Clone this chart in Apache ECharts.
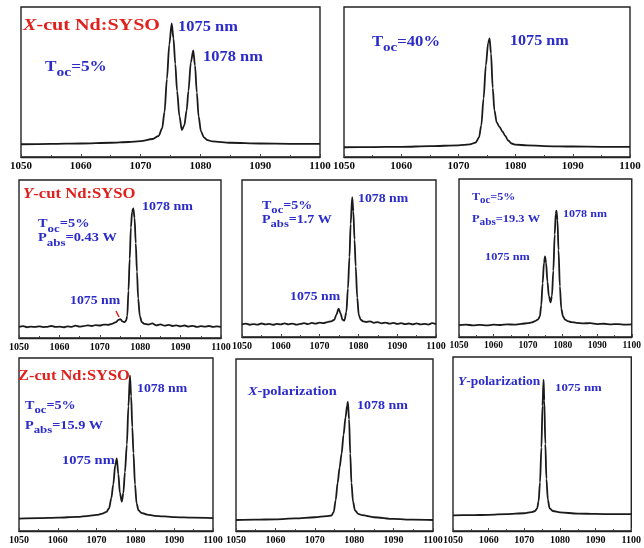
<!DOCTYPE html>
<html><head><meta charset="utf-8">
<script src="https://cdn.jsdelivr.net/npm/echarts@6/dist/echarts.min.js"></script>
<style>html,body{margin:0;padding:0;background:#fff}#c{width:644px;height:548px}</style>
</head><body><div id="c"></div>
<script>
// ---- data (wavelength nm, relative intensity) ----
const ticks = [1050, 1060, 1070, 1080, 1090, 1100];

const xcut5 = [[1050,0.085],[1055,0.087],[1060,0.09],[1065,0.095],[1068,0.1],[1070,0.106],[1072,0.12],[1073,0.14],[1073.6,0.19],[1074.0,0.3],[1074.4,0.52],[1074.8,0.75],[1075.2,0.89],[1075.5,0.79],[1075.8,0.62],[1076.1,0.44],[1076.5,0.27],[1076.9,0.18],[1077.3,0.21],[1077.7,0.31],[1078.0,0.44],[1078.4,0.63],[1078.8,0.71],[1079.1,0.61],[1079.4,0.43],[1079.7,0.27],[1080.1,0.17],[1080.6,0.13],[1081.2,0.113],[1082,0.104],[1085,0.095],[1090,0.09],[1095,0.088],[1100,0.087]];

const xcut40 = [[1050,0.065],[1055,0.066],[1060,0.068],[1065,0.072],[1070,0.078],[1072,0.084],[1073,0.096],[1073.6,0.13],[1074.0,0.21],[1074.4,0.39],[1074.8,0.61],[1075.2,0.76],[1075.45,0.79],[1075.7,0.69],[1076.0,0.46],[1076.3,0.31],[1076.7,0.23],[1077.2,0.2],[1077.7,0.17],[1078.2,0.14],[1078.7,0.11],[1079.3,0.09],[1080,0.082],[1082,0.078],[1085,0.073],[1090,0.07],[1095,0.068],[1100,0.067]];

const ycut043 = [[1050,0.07],[1051,0.075],[1052,0.068],[1053,0.072],[1054,0.07],[1055,0.074],[1056,0.069],[1057,0.071],[1058,0.076],[1059,0.07],[1060,0.072],[1061,0.068],[1062,0.074],[1063,0.071],[1064,0.078],[1065,0.072],[1066,0.075],[1067,0.08],[1068,0.076],[1069,0.082],[1070,0.079],[1071,0.085],[1072,0.083],[1073,0.09],[1074,0.1],[1074.6,0.115],[1075.1,0.12],[1075.6,0.105],[1076.1,0.1],[1076.5,0.11],[1076.8,0.14],[1077.1,0.3],[1077.4,0.5],[1077.7,0.7],[1078.0,0.8],[1078.3,0.82],[1078.6,0.76],[1078.9,0.6],[1079.2,0.42],[1079.5,0.25],[1079.9,0.14],[1080.4,0.1],[1081,0.09],[1082,0.085],[1083,0.092],[1084,0.08],[1085,0.086],[1086,0.078],[1087,0.083],[1088,0.076],[1089,0.08],[1090,0.074],[1091,0.079],[1092,0.072],[1093,0.077],[1094,0.07],[1095,0.075],[1096,0.072],[1097,0.076],[1098,0.07],[1099,0.073],[1100,0.071]];

const ycut17 = [[1050,0.08],[1051,0.085],[1052,0.078],[1053,0.082],[1054,0.079],[1055,0.086],[1056,0.08],[1057,0.083],[1058,0.078],[1059,0.084],[1060,0.08],[1061,0.087],[1062,0.081],[1063,0.085],[1064,0.079],[1065,0.083],[1066,0.088],[1067,0.082],[1068,0.09],[1069,0.085],[1070,0.092],[1071,0.088],[1072,0.095],[1073,0.1],[1073.8,0.11],[1074.3,0.14],[1074.9,0.18],[1075.4,0.15],[1075.9,0.11],[1076.4,0.105],[1076.9,0.16],[1077.3,0.31],[1077.7,0.51],[1078.0,0.72],[1078.4,0.89],[1078.7,0.8],[1079.0,0.62],[1079.3,0.45],[1079.7,0.25],[1080.1,0.14],[1080.6,0.11],[1081.2,0.1],[1082,0.095],[1083,0.1],[1084,0.09],[1085,0.095],[1086,0.087],[1087,0.092],[1088,0.085],[1089,0.09],[1090,0.083],[1091,0.088],[1092,0.082],[1093,0.086],[1094,0.08],[1095,0.087],[1096,0.081],[1097,0.084],[1098,0.079],[1099,0.088],[1100,0.082]];

const ycut193 = [[1050,0.075],[1052,0.078],[1054,0.074],[1056,0.077],[1058,0.073],[1060,0.078],[1062,0.076],[1064,0.08],[1066,0.078],[1068,0.083],[1070,0.088],[1071,0.092],[1072,0.1],[1072.8,0.11],[1073.4,0.13],[1073.8,0.2],[1074.2,0.34],[1074.6,0.47],[1074.9,0.51],[1075.2,0.47],[1075.6,0.35],[1076.0,0.26],[1076.5,0.22],[1076.9,0.26],[1077.3,0.42],[1077.7,0.65],[1078.0,0.78],[1078.2,0.8],[1078.5,0.74],[1078.8,0.55],[1079.2,0.32],[1079.6,0.18],[1080.1,0.13],[1080.7,0.11],[1081.5,0.1],[1082.5,0.094],[1084,0.09],[1086,0.086],[1088,0.088],[1090,0.082],[1092,0.084],[1094,0.08],[1096,0.082],[1098,0.078],[1100,0.08]];

const zcut159 = [[1050,0.072],[1055,0.074],[1060,0.077],[1065,0.082],[1068,0.088],[1070,0.093],[1071.5,0.1],[1072.5,0.11],[1073.2,0.13],[1073.8,0.19],[1074.3,0.27],[1074.8,0.38],[1075.2,0.42],[1075.6,0.33],[1076.0,0.22],[1076.5,0.17],[1076.9,0.22],[1077.3,0.34],[1077.8,0.5],[1078.2,0.72],[1078.6,0.9],[1078.9,0.78],[1079.2,0.6],[1079.5,0.45],[1079.9,0.27],[1080.3,0.16],[1080.8,0.12],[1081.5,0.105],[1083,0.095],[1085,0.088],[1090,0.08],[1095,0.077],[1100,0.075]];

const xpol = [[1050,0.064],[1055,0.066],[1060,0.068],[1065,0.073],[1070,0.08],[1073,0.086],[1074.2,0.09],[1074.8,0.11],[1075.3,0.18],[1075.8,0.28],[1076.3,0.37],[1076.8,0.45],[1077.3,0.56],[1077.8,0.66],[1078.2,0.73],[1078.4,0.75],[1078.7,0.65],[1079.0,0.45],[1079.3,0.28],[1079.7,0.17],[1080.2,0.12],[1081,0.1],[1082,0.092],[1085,0.08],[1090,0.07],[1095,0.066],[1100,0.064]];

const ypol = [[1050,0.09],[1055,0.091],[1060,0.093],[1065,0.097],[1070,0.102],[1072,0.108],[1073,0.115],[1073.6,0.13],[1074.0,0.17],[1074.4,0.28],[1074.8,0.48],[1075.1,0.72],[1075.4,0.87],[1075.6,0.75],[1075.9,0.5],[1076.2,0.3],[1076.6,0.18],[1077.1,0.13],[1078,0.115],[1080,0.107],[1085,0.1],[1090,0.098],[1095,0.097],[1100,0.097]];

// ---- layout ----
const panels = [
  {data: xcut5,   box: [21, 7, 299, 150], fs: 11},
  {data: xcut40,  box: [344, 7, 286, 150], fs: 11},
  {data: ycut043, box: [19, 180, 202, 158], fs: 10},
  {data: ycut17,  box: [242, 180, 194, 157], fs: 10},
  {data: ycut193, box: [459, 179, 173, 158], fs: 9.5},
  {data: zcut159, box: [19, 358, 194, 173], fs: 10},
  {data: xpol,    box: [236, 359, 197, 172], fs: 10},
  {data: ypol,    box: [453, 357, 183, 174], fs: 10}
];

const BLUE = '#2b2bc9', RED = '#e0201c', FONT = '"Liberation Serif", "Times New Roman", serif';
// annotations: [x-left, y-center, rich text, size, color]
const notes = [
  [23, 27, '{i|X}{n|-cut Nd:SYSO}', 17.5, RED],
  [178, 29, '{n|1075 nm}', 14.3, BLUE],
  [203, 59, '{n|1078 nm}', 14.3, BLUE],
  [45, 69, '{n|T}{s|oc}{n|=5%}', 15, BLUE],
  [372, 44, '{n|T}{s|oc}{n|=40%}', 14.5, BLUE],
  [510, 43, '{n|1075 nm}', 14, BLUE],
  [23, 196, '{i|Y}{n|-cut Nd:SYSO}', 14.5, RED],
  [142, 208, '{n|1078 nm}', 12.2, BLUE],
  [38, 225, '{n|T}{s|oc}{n|=5%}', 12.5, BLUE],
  [38, 239, '{n|P}{s|abs}{n|=0.43 W}', 12.5, BLUE],
  [70, 302, '{n|1075 nm}', 12, BLUE],
  [358, 200, '{n|1078 nm}', 12, BLUE],
  [262, 207, '{n|T}{s|oc}{n|=5%}', 12.2, BLUE],
  [262, 221, '{n|P}{s|abs}{n|=1.7 W}', 12.2, BLUE],
  [290, 298, '{n|1075 nm}', 12, BLUE],
  [472, 198, '{n|T}{s|oc}{n|=5%}', 10.5, BLUE],
  [472, 220, '{n|P}{s|abs}{n|=19.3 W}', 10.8, BLUE],
  [563, 215, '{n|1078 nm}', 10.5, BLUE],
  [485, 258, '{n|1075 nm}', 10.7, BLUE],
  [18, 378, '{n|Z-cut Nd:SYSO}', 14.3, RED],
  [137, 390, '{n|1078 nm}', 12, BLUE],
  [25, 407, '{n|T}{s|oc}{n|=5%}', 12.3, BLUE],
  [25, 427, '{n|P}{s|abs}{n|=15.9 W}', 12.4, BLUE],
  [62, 462, '{n|1075 nm}', 12.6, BLUE],
  [248, 393, '{i|X}{n|-polarization}', 12.5, BLUE],
  [357, 407, '{n|1078 nm}', 12.2, BLUE],
  [458, 383, '{i|Y}{n|-polarization}', 11.7, BLUE],
  [555, 390, '{n|1075 nm}', 11.2, BLUE]
];

const SX = 1.15;
function note(n) {
  const [x, y, text, s, color] = n;
  const lh = Math.round(s * 1.2);
  const base = {fontFamily: FONT, fontWeight: 'bold', fontSize: s, fill: color, color: color};
  const rich = {
    n: Object.assign({}, base, {verticalAlign: 'top', lineHeight: lh}),
    i: Object.assign({}, base, {fontStyle: 'italic', verticalAlign: 'top', lineHeight: lh}),
    s: Object.assign({}, base, {fontSize: s * 0.9, verticalAlign: 'bottom', lineHeight: Math.round(s * 1.33)})
  };
  return {
    type: 'text', x: x, y: y - s * 0.62, scaleX: SX, z: 100,
    style: {text: text, rich: rich, fontFamily: FONT, fontWeight: 'bold', fontSize: s, fill: color, align: 'left', verticalAlign: 'top'}
  };
}

const grid = [], xAxis = [], yAxis = [], series = [];
panels.forEach((p, i) => {
  const [l, t, w, h] = p.box;
  grid.push({left: l, top: t, width: w, height: h, show: true, borderColor: '#222', borderWidth: 1.4, backgroundColor: 'transparent', containLabel: false});
  xAxis.push({
    type: 'value', gridIndex: i, min: ticks[0], max: ticks[ticks.length - 1], interval: ticks[1] - ticks[0],
    axisLine: {show: true, lineStyle: {color: '#222', width: 1.4}},
    axisTick: {show: true, inside: true, length: 3, lineStyle: {color: '#444'}},
    minorTick: {show: true, splitNumber: 2, length: 2, lineStyle: {color: '#444'}},
    splitLine: {show: false},
    axisLabel: {show: true, margin: 4, color: '#0a0a0a', fontFamily: FONT, fontWeight: 'bold', fontSize: p.fs, showMinLabel: true, showMaxLabel: true, hideOverlap: false, formatter: v => String(v)}
  });
  yAxis.push({type: 'value', gridIndex: i, min: 0, max: 1, show: false, splitLine: {show: false}});
  series.push({
    type: 'line', xAxisIndex: i, yAxisIndex: i, data: p.data, showSymbol: false, symbol: 'none',
    smooth: 0.3, smoothMonotone: 'x', lineStyle: {color: '#1a1a1a', width: 1.8}, silent: true, animation: false
  });
});

const graphic = notes.map(note);
graphic.push({type: 'line', shape: {x1: 116, y1: 311, x2: 119, y2: 317}, style: {stroke: RED, lineWidth: 1.5}, z: 100});

const chart = echarts.init(document.getElementById('c'), null, {renderer: 'canvas'});
chart.setOption({animation: false, backgroundColor: '#fff', grid, xAxis, yAxis, series, graphic});
</script></body></html>
